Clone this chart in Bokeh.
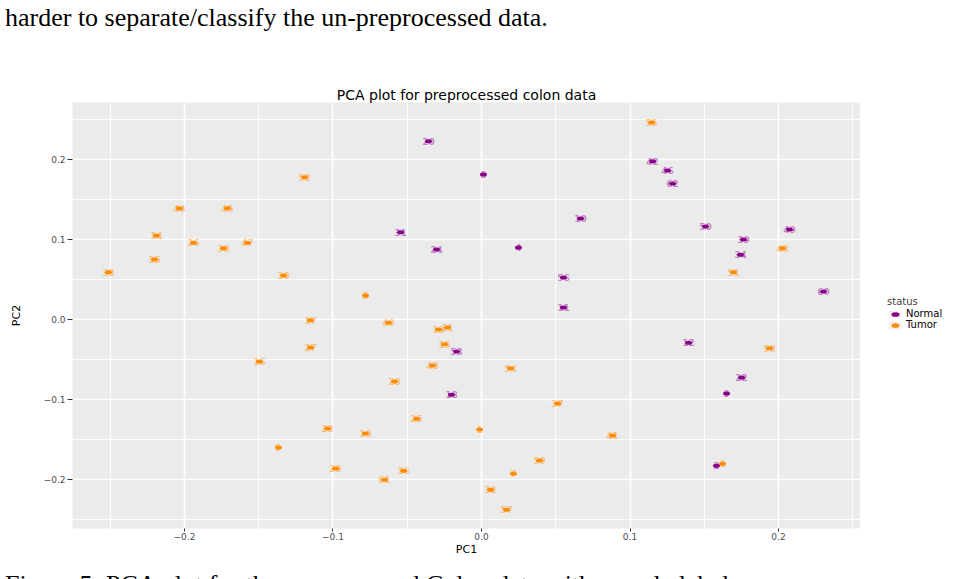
from bokeh.plotting import figure
from bokeh.layouts import column, row
from bokeh.models import Range1d, FixedTicker, Legend, LegendItem, Div
from bokeh.embed import file_html
from bokeh.resources import INLINE
from bokeh.core.properties import value

# PCA scores for the preprocessed colon samples
normal_pc1 = [-0.0357, 0.0013, -0.0545, -0.0303, 0.0249, 0.0667, 0.1152, 0.1253, 0.1286, 0.1508, 0.1764,
              0.2074, 0.1744, 0.2303, 0.0552, 0.0552, -0.0168, -0.0202, 0.1394, 0.1751, 0.1650, 0.1582]
normal_pc2 = [0.2225, 0.1810, 0.1090, 0.0875, 0.0900, 0.1260, 0.1975, 0.1860, 0.1700, 0.1160, 0.1000,
              0.1125, 0.0810, 0.0350, 0.0525, 0.0150, -0.0400, -0.0940, -0.0290, -0.0725, -0.0925, -0.1825]
normal_ids = [20, 8, 31, 24, 4, 10, 42, 46, 62, 50, 39, 49, 34, 60, 56, 11, 53, 18, 12, 22, 9, 2]

tumor_pc1 = [-0.2512, -0.2189, -0.2202, -0.2034, -0.1939, -0.1710, -0.1737, -0.1576, -0.1333, -0.1192,
             -0.0781, -0.1152, -0.0626, -0.0290, -0.0229, -0.0249, -0.0330, -0.1152, -0.1495, -0.0586,
             -0.0438, -0.1037, -0.0781, -0.1367, -0.0983, -0.0525, -0.0653, -0.0013, 0.0195, 0.0512,
             0.0390, 0.0215, 0.0061, 0.0168, 0.0882, 0.1623, 0.1145, 0.2027, 0.1697, 0.1939]
tumor_pc2 = [0.0590, 0.1050, 0.0750, 0.1390, 0.0960, 0.1390, 0.0890, 0.0960, 0.0550, 0.1775,
             0.0300, -0.0010, -0.0040, -0.0125, -0.0100, -0.0310, -0.0575, -0.0350, -0.0525, -0.0775,
             -0.1240, -0.1360, -0.1425, -0.1600, -0.1860, -0.1890, -0.2000, -0.1375, -0.0610, -0.1050,
             -0.1760, -0.1925, -0.2125, -0.2375, -0.1450, -0.1800, 0.2460, 0.0890, 0.0590, -0.0360]
tumor_ids = [33, 14, 35, 44, 26, 45, 38, 47, 30, 52, 3, 17, 40, 13, 21, 15, 43, 27, 16, 28,
             25, 23, 19, 5, 29, 36, 61, 1, 54, 37, 59, 7, 32, 57, 41, 6, 55, 48, 51, 58]

status_levels = ["Normal", "Tumor"]
status_colors = ["#8B008B", "#FF8C00"]

major_ticks = [-0.2, -0.1, 0.0, 0.1, 0.2]
major_labels = ["\u22120.2", "\u22120.1", "0.0", "0.1", "0.2"]
minor_ticks = [-0.25, -0.15, -0.05, 0.05, 0.15, 0.25]

p = figure(width=860, height=520, output_backend="svg", toolbar_location=None,
           x_range=Range1d(-0.2754, 0.2552), y_range=Range1d(-0.261, 0.271),
           min_border_left=72, min_border_right=0, min_border_top=52, min_border_bottom=42,
           background_fill_color="#EBEBEB", border_fill_color="white", outline_line_color=None)

p.title.text = "PCA plot for preprocessed colon data"
p.title.align = "center"
p.title.text_font = "DejaVu Sans"
p.title.text_font_size = "14px"
p.title.text_font_style = "normal"
p.title.text_color = "black"
p.title.standoff = 0

for axis in (p.xaxis[0], p.yaxis[0]):
    axis.ticker = FixedTicker(ticks=major_ticks, minor_ticks=minor_ticks)
    axis.major_label_overrides = {t: lab for t, lab in zip(major_ticks, major_labels)}
    axis.axis_line_color = None
    axis.minor_tick_line_color = None
    axis.major_tick_line_color = "#333333"
    axis.major_tick_in = 0
    axis.major_label_text_font = "DejaVu Sans"
    axis.major_label_text_font_size = "9px"
    axis.major_label_text_color = "#4D4D4D"
    axis.axis_label_text_font = "DejaVu Sans"
    axis.axis_label_text_font_size = "11px"
    axis.axis_label_text_font_style = "normal"
    axis.axis_label_text_color = "black"

p.xaxis.axis_label = "PC1"
p.xaxis.major_tick_out = 3
p.xaxis.major_label_standoff = 0
p.xaxis.axis_label_standoff = 0
p.yaxis.axis_label = "PC2"
p.yaxis.major_tick_out = 5
p.yaxis.major_label_standoff = 2
p.yaxis.axis_label_standoff = 18

for g in p.grid:
    g.grid_line_color = "white"
    g.grid_line_width = 1.6
    g.minor_grid_line_color = "white"
    g.minor_grid_line_width = 0.9

# sample labels with a dot at each score
groups = [(normal_pc1, normal_pc2, normal_ids, status_colors[0]),
          (tumor_pc1, tumor_pc2, tumor_ids, status_colors[1])]
for xs, ys, ids, col in groups:
    p.text(x=xs, y=ys, text=[str(i) for i in ids], text_font=value("DejaVu Sans"),
           text_font_size="9px", text_font_style="bold", text_color=col, text_alpha=0.45,
           text_align="center", text_baseline="middle")
    p.ellipse(x=xs, y=ys, width=7, height=4, width_units="screen", height_units="screen",
              fill_color=col, line_color=None)

# legend panel to the right of the plot
lg = figure(width=110, height=520, output_backend="svg", toolbar_location=None,
            x_range=Range1d(0, 1), y_range=Range1d(0, 1),
            min_border_left=0, min_border_right=0, min_border_top=0, min_border_bottom=0,
            x_axis_location=None, y_axis_location=None, outline_line_color=None,
            background_fill_color="white", border_fill_color="white")
lg.grid.visible = False

nan = float("nan")
key_bg = lg.rect(x=[nan], y=[nan], width=1, height=1, fill_color="#F2F2F2", line_color=None)
items = []
for lab, col in zip(status_levels, status_colors):
    dot = lg.ellipse(x=[nan], y=[nan], width=7, height=4, width_units="screen",
                     height_units="screen", fill_color=col, line_color=None)
    items.append(LegendItem(label=lab, renderers=[key_bg, dot]))

legend = Legend(items=items, title="status", location=(27, 198), orientation="vertical",
                padding=0, margin=0, spacing=0, glyph_width=16, glyph_height=10,
                label_height=10, label_standoff=3, label_text_font="DejaVu Sans",
                label_text_font_size="10px", label_text_color="black",
                title_text_font="DejaVu Sans", title_text_font_size="10px",
                title_text_font_style="normal", title_standoff=1,
                background_fill_alpha=0, border_line_color=None)
lg.add_layout(legend, "center")

text_style = {"font-family": "'Liberation Serif', serif", "font-size": "26px",
              "line-height": "26px", "color": "black", "white-space": "nowrap"}
top_text = Div(text="harder to separate/classify the un-preprocessed data.",
               width=970, height=50, margin=0,
               styles=dict(text_style, **{"padding-top": "5px", "padding-left": "5px"}))
bottom_text = Div(text="Figure 5: PCA plot for the preprocessed Colon data with sample labels",
                  width=970, height=30, margin=0,
                  styles=dict(text_style, **{"padding-top": "2px", "padding-left": "5px"}))

page = column(top_text, row(p, lg, spacing=0, margin=0), bottom_text, spacing=0, margin=0)
open("out.html", "w").write(file_html(page, INLINE))
